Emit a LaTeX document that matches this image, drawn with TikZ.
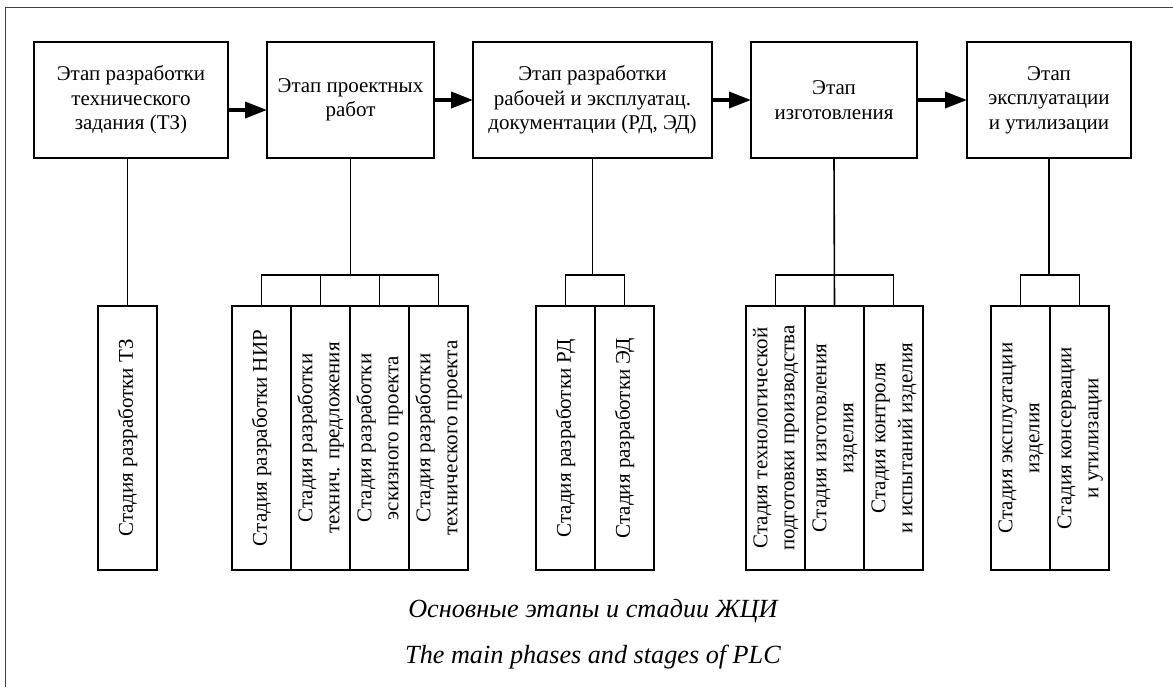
\documentclass[tikz,border=0pt]{standalone}
\usepackage{fontspec}
\setmainfont{Liberation Serif}
\usepackage{graphicx}
\usetikzlibrary{arrows.meta,positioning}
\newcommand{\boxfont}{\fontsize{10.5}{12.2}\selectfont}
\newcommand{\capfont}{\fontsize{13.1}{16}\selectfont\itshape}
\newcommand{\vtext}[1]{\rotatebox{90}{\def\arraystretch{1.1}\begin{tabular}{@{}c@{}}#1\end{tabular}}}
\tikzset{
  etap/.style={draw, line width=1pt, align=center, font=\boxfont, minimum height=58pt, inner sep=3pt, outer sep=0pt},
  stadia/.style={draw, line width=1pt, minimum width=29.5pt, minimum height=132pt, inner sep=0pt, outer sep=0pt, font=\boxfont},
  arrow/.style={-{Triangle[length=11pt,width=8pt]}, line width=1.8pt},
  link/.style={line width=0.8pt},
  caption/.style={font=\capfont},
  frame/.style={line width=0.8pt, draw=black!75}
}

\begin{document}
\begin{tikzpicture}[x=0.5pt,y=-0.5pt]
\useasboundingbox (0,0) rectangle (1173,687);
\draw[frame] (5.5,687) |- (1173,7.5);

% Этапы
\node[etap, minimum width=97pt] (e1) at (131,100)
  {Этап разработки\\технического\\задания (ТЗ)};
\node[etap, minimum width=83.5pt, right=19.5pt of e1] (e2)
  {Этап проектных\\работ};
\node[etap, minimum width=119.5pt, right=19.5pt of e2] (e3)
  {Этап разработки\\рабочей и эксплуатац.\\документации (РД, ЭД)};
\node[etap, minimum width=83pt, right=19.5pt of e3] (e4)
  {Этап\\изготовления};
\node[etap, minimum width=82pt, right=25pt of e4] (e5)
  {Этап\\эксплуатации\\и утилизации};

\draw[arrow] ([yshift=-5pt]e1.east) -- ([yshift=-5pt]e2.west);
\draw[arrow] (e2.east) -- (e3.west);
\draw[arrow] (e3.east) -- (e4.west);
\draw[arrow] (e4.east) -- (e5.west);

% Стадии
\node[stadia, anchor=north west] (s11) at (98,306) {\vtext{Стадия разработки ТЗ}};

\node[stadia, anchor=north west] (s21) at (232,306) {\vtext{Стадия разработки НИР}};
\node[stadia, right=0pt of s21] (s22) {\vtext{Стадия разработки\\технич. предложения}};
\node[stadia, right=0pt of s22] (s23) {\vtext{Стадия разработки\\эскизного проекта}};
\node[stadia, right=0pt of s23] (s24) {\vtext{Стадия разработки\\технического проекта}};

\node[stadia, anchor=north west] (s31) at (536,306) {\vtext{Стадия разработки РД}};
\node[stadia, right=0pt of s31] (s32) {\vtext{Стадия разработки ЭД}};

\node[stadia, anchor=north west] (s41) at (746,306) {\vtext{Стадия технологической\\подготовки производства}};
\node[stadia, right=0pt of s41] (s42) {\vtext{Стадия изготовления\\изделия}};
\node[stadia, right=0pt of s42] (s43) {\vtext{Стадия контроля\\и испытаний изделия}};

\node[stadia, anchor=north west] (s51) at (991,306) {\vtext{Стадия эксплуатации\\изделия}};
\node[stadia, right=0pt of s51] (s52) {\vtext{Стадия консервации\\и утилизации}};

% Связи этапов со стадиями
\draw[link] (e1.south -| s11.north) -- (s11.north);
\draw[link] (e2.south) -- (e2.south |- 0,275);
\draw[link] (s21.north) |- (s24.north |- 0,275) -- (s24.north);
\foreach \s in {s22,s23} \draw[link] (\s.north) -- (\s.north |- 0,275);
\draw[link] (e3.south) -- (e3.south |- 0,275);
\draw[link] (s31.north) |- (s32.north |- 0,275) -- (s32.north);
\draw[link] (e4.south) -- (s42.north);
\draw[link] (s41.north) |- (s43.north |- 0,275) -- (s43.north);
\draw[link] (e5.south) -- (e5.south |- 0,275);
\draw[link] (s51.north) |- (s52.north |- 0,275) -- (s52.north);

\node[caption] (cap1) at (593,611) {Основные этапы и стадии ЖЦИ};
\node[caption] (cap2) at (593,657) {The main phases and stages of PLC};
\end{tikzpicture}
\end{document}
